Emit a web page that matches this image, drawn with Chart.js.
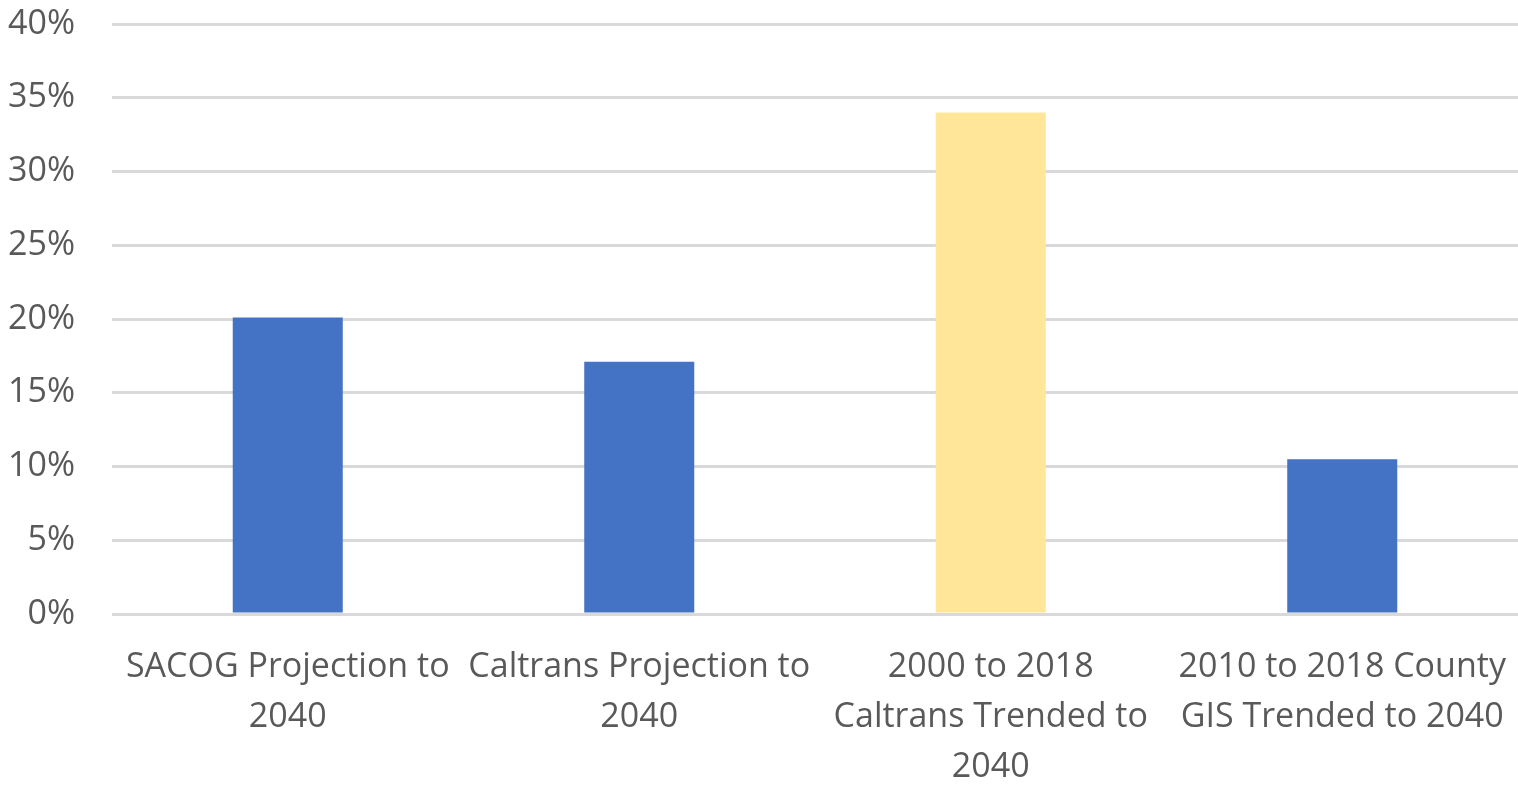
<!DOCTYPE html>
<html>
<head>
<meta charset="utf-8">
<script src="https://cdn.jsdelivr.net/npm/chart.js@4"></script>
<style>
  html, body { margin: 0; padding: 0; background: #fff; }
  #wrap { width: 1518px; height: 786px; position: relative; }
</style>
</head>
<body>
<div id="wrap"><canvas id="chart"></canvas></div>
<script>
const categories = [
  ["SACOG Projection to", "2040"],
  ["Caltrans Projection to", "2040"],
  ["2000 to 2018", "Caltrans Trended to", "2040"],
  ["2010 to 2018 County", "GIS Trended to 2040"]
];
const growthValues = [20.1, 17.1, 34.0, 10.5];
const yTicks = [0, 5, 10, 15, 20, 25, 30, 35, 40];

const BLUE = "#4472c4";
const YELLOW = "#ffe699";
const barColors = growthValues.map((_, i) => i === 2 ? YELLOW : BLUE);

const ctx = document.getElementById("chart");
new Chart(ctx, {
  type: "bar",
  data: {
    labels: categories,
    datasets: [{
      data: growthValues,
      backgroundColor: barColors,
      borderWidth: 0,
      categoryPercentage: 1,
      barPercentage: 0.313
    }]
  },
  options: {
    responsive: true,
    maintainAspectRatio: false,
    animation: false,
    layout: { padding: { top: 0, right: 0, left: 0, bottom: 0 } },
    plugins: { legend: { display: false }, tooltip: { enabled: false } },
    scales: {
      x: {
        grid: { display: false, drawTicks: false },
        border: { display: false },
        ticks: {
          autoSkip: false,
          maxRotation: 0,
          minRotation: 0,
          padding: 28,
          color: "#595959",
          font: { family: "'Open Sans', sans-serif", size: 34, lineHeight: 1.47 }
        },
        afterFit: s => { s.height = 172; s.paddingLeft = 0; s.paddingRight = 0; }
      },
      y: {
        min: 0,
        max: 40,
        afterBuildTicks: s => { s.ticks = yTicks.map(v => ({ value: v })); },
        grid: { color: "#d9d9d9", lineWidth: 3, drawTicks: false },
        border: { display: false },
        ticks: {
          padding: 37,
          color: "#595959",
          font: { family: "'Open Sans', sans-serif", size: 34 },
          callback: v => v + "%"
        },
        afterFit: s => { s.width = 112; s.paddingTop = 24; s.paddingBottom = 0; }
      }
    }
  }
});
</script>
</body>
</html>
